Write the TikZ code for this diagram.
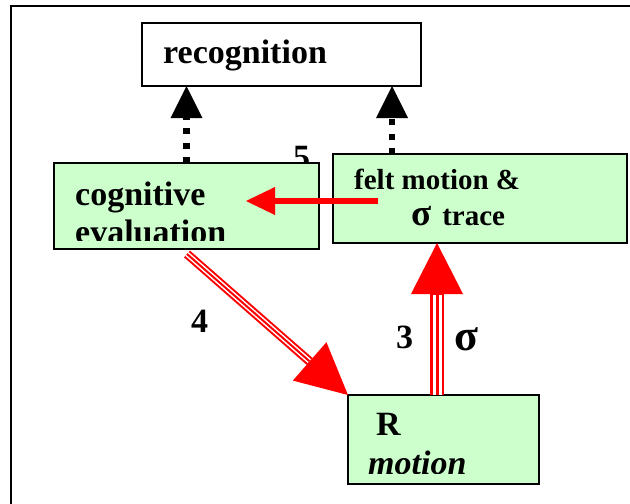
\documentclass[tikz,border=0pt]{standalone}
\usepackage{fontspec}
\setmainfont{Liberation Serif}
\usetikzlibrary{arrows.meta,calc}
\definecolor{boxgreen}{HTML}{CCFFCC}
\definecolor{arrred}{HTML}{FF0000}
\begin{document}
\begin{tikzpicture}[x=1pt,y=-1pt,
  box/.style={draw=black, line width=1.6pt, inner sep=0pt, outer sep=0pt, rectangle},
  gbox/.style={box, fill=boxgreen},
  big/.style={inner sep=0pt, anchor=base west, font=\fontsize{34}{40}\selectfont\bfseries},
  mid/.style={inner sep=0pt, anchor=base west, font=\fontsize{29}{34}\selectfont\bfseries},
  dotarrow/.style={line width=6.5pt, dash pattern=on 6pt off 8.5pt,
    -{Triangle[length=32pt,width=32pt,line width=0pt]}},
  redtip/.style={-{Triangle[length=#1,width=#1,line width=0pt]}}
]
\useasboundingbox (0,0) rectangle (630,504);
\clip (0,0) rectangle (630,504);

% outer frame
\draw[line width=2pt] (11,520) -- (11,6) -- (640,6);

% label 5 (partly behind the box)
\node[big] (l5) at (293,168) {5};

% boxes
\node[box, fill=white, minimum width=279pt, minimum height=63pt] (recog) at (281.5,54.5) {};
\node[gbox, minimum width=265pt, minimum height=86pt] (cog) at (186.5,206) {};
\node[gbox, minimum width=294pt, minimum height=89pt] (felt) at (480,198.5) {};
\node[gbox, minimum width=191pt, minimum height=89pt] (R) at (443.5,439.5) {};

% texts
\node[big] (recogt) at (163,63) {recognition};
\node[big] (cogt1) at (75,205) {cognitive};
\begin{scope}
  \clip (54,163) rectangle (319,240);
  \node[big] (cogt2) at (75,243) {evaluation};
\end{scope}
\node[mid] (feltt1) at (354,189) {felt motion \&};
\node[mid] (feltt2) at (411,225) {{\fontsize{37}{40}\selectfont σ}\hspace{11pt}trace};
\node[big] (Rt1) at (376,435) {R};
\begin{scope}
  \clip (348,395) rectangle (539,473);
  \node[big, font=\fontsize{34}{40}\selectfont\bfseries\itshape] (Rt2) at (368,474) {motion};
\end{scope}

% labels
\node[big] (l4) at (191,332) {4};
\node[big] (l3) at (396,348) {3};
\node[inner sep=0pt, anchor=base west, font=\fontsize{44}{50}\selectfont\bfseries] (lsig) at (454,350) {σ};

% dotted arrows to recognition
\draw[dotarrow] (cog.north) -- (cog.north |- recog.south);
\draw[dotarrow] ([xshift=-88pt]felt.north) -- ([xshift=-88pt]felt.north |- recog.south);

% red horizontal arrow
\coordinate (hs) at (378,201);
\coordinate (he) at (246,201);
\draw[arrred, line width=6pt, -{Triangle[length=29pt,width=28pt,line width=0pt]}] (hs) -- (he);

% triple arrow 4
\coordinate (ds) at ($(cog.south)+(0.5,5)$);
\draw[arrred, line width=9pt, redtip=51pt] (ds) -- (R.north west);
\draw[white, line width=5pt, shorten >=51.5pt] (ds) -- (R.north west);
\draw[arrred, line width=2pt, shorten >=51.5pt] (ds) -- (R.north west);

% triple arrow 3
\coordinate (vs) at ([xshift=-6.5pt]R.north);
\draw[arrred, line width=14.5pt, -{Triangle[length=51pt,width=52pt,line width=0pt]}] (vs) -- (vs |- felt.south);
\draw[white, line width=9pt, shorten >=51.5pt] (vs) -- (vs |- felt.south);
\draw[arrred, line width=3pt, shorten >=51.5pt] (vs) -- (vs |- felt.south);
\end{tikzpicture}
\end{document}
